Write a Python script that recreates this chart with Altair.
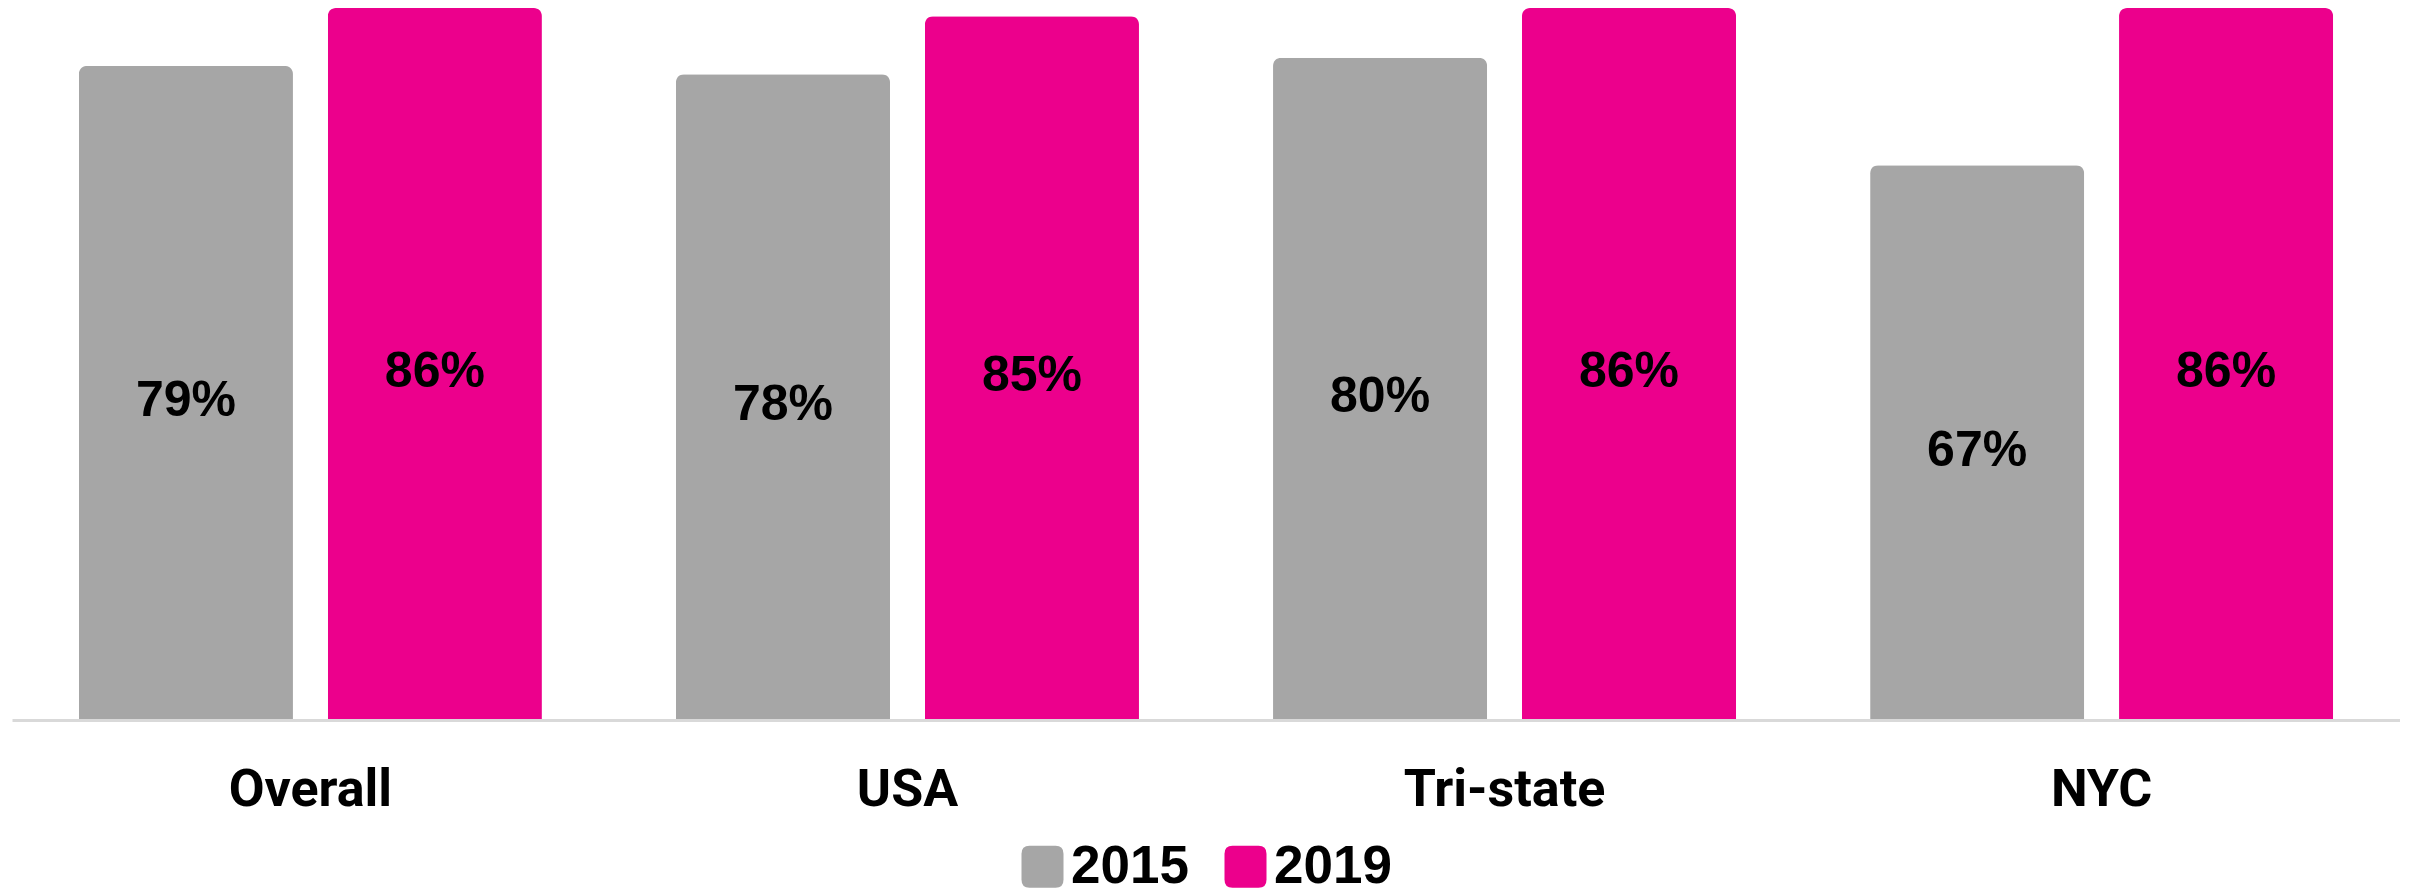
import altair as alt
import pandas as pd

categories = ["Overall", "USA", "Tri-state", "NYC"]
years = ["2015", "2019"]
values_2015 = [0.79, 0.78, 0.80, 0.67]
values_2019 = [0.86, 0.85, 0.86, 0.86]
colors = ["#A6A6A6", "#EC008C"]

df = pd.DataFrame({
    "category": categories * 2,
    "year": [years[0]] * len(categories) + [years[1]] * len(categories),
    "value": values_2015 + values_2019,
})

rounded_square = ("M-1,-0.62 Q-1,-1 -0.62,-1 L0.62,-1 Q1,-1 1,-0.62 L1,0.62 "
                  "Q1,1 0.62,1 L-0.62,1 Q-1,1 -1,0.62 Z")

yscale = alt.Scale(domain=[0, 0.86], nice=False, zero=True)

base = alt.Chart(df).encode(
    x=alt.X(
        "category:N",
        sort=categories,
        scale=alt.Scale(paddingInner=0.2245, paddingOuter=0.112),
        axis=alt.Axis(
            title=None, labelAngle=0, ticks=False, grid=False,
            domainColor="#d9d9d9", domainWidth=3, zindex=1,
            labelFont="Roboto", labelFontSize=52, labelFontWeight="bold",
            labelColor="#000000", labelPadding=44, labelLimit=0,
        ),
    ),
    xOffset=alt.XOffset("year:N", sort=years,
                        scale=alt.Scale(paddingInner=0.14, paddingOuter=0)),
)

bars = base.mark_bar(cornerRadiusTopLeft=8, cornerRadiusTopRight=8).encode(
    y=alt.Y("value:Q", scale=yscale, axis=None),
    color=alt.Color(
        "year:N",
        scale=alt.Scale(domain=years, range=colors),
        legend=alt.Legend(
            title=None, orient="none", direction="horizontal",
            legendX=1004, legendY=832, padding=0,
            symbolType=rounded_square, symbolSize=1764, symbolStrokeWidth=0,
            labelFont="Liberation Sans", labelFontSize=53, labelFontWeight="bold",
            labelColor="#000000", labelOffset=2, columnPadding=30, labelLimit=0,
        ),
    ),
)

labels = base.transform_calculate(mid="datum.value / 2").mark_text(
    font="Liberation Sans", fontSize=50, fontWeight="bold", color="#000000",
    baseline="middle", align="center", dy=8,
).encode(
    y=alt.Y("mid:Q", scale=yscale, axis=None),
    text=alt.Text("value:Q", format=".0%"),
)

chart = alt.layer(bars, labels).properties(
    width=2388, height=712,
    padding={"left": 4, "top": 0, "right": 0, "bottom": 0},
).configure_view(stroke=None)

chart.save("out.html", embed_options={"renderer": "svg", "actions": False})
